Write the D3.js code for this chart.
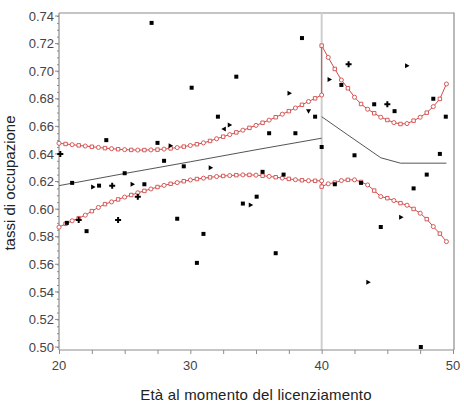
<!DOCTYPE html>
<html>
<head>
<meta charset="utf-8">
<script src="https://cdn.jsdelivr.net/npm/d3@7"></script>
<style>
  html, body { margin: 0; padding: 0; background: #fff; }
  svg { display: block; }
  text { font-family: "Liberation Sans", Arial, sans-serif; }
</style>
</head>
<body>
<svg id="chart" width="464" height="405"></svg>
<script>
// Observed employment rates by age at dismissal
const pointAge = [20.1, 21.0, 20.6, 21.5, 22.1, 23.6, 22.6, 23.05, 24.05, 25.0, 24.5, 25.6, 26.0, 26.5,
  27.5, 28.5, 28.0, 29.5, 31.55, 29.0, 31.0, 30.5, 34.0, 34.6, 35.05, 35.5, 37.1, 36.5, 36.0, 38.0,
  27.05, 30.1, 33.5, 38.5, 32.1, 32.55, 33.0, 37.55, 39.0, 39.5,
  42.05, 40.6, 41.5, 46.5, 44.0, 45.0, 45.55, 48.5, 49.45, 40.0, 42.5, 41.0, 43.0, 49.0, 48.0, 47.0,
  46.05, 44.5, 43.55, 47.55];
const pointRate = [0.640, 0.619, 0.590, 0.592, 0.584, 0.650, 0.616, 0.617, 0.617, 0.626, 0.592, 0.618, 0.609, 0.618,
  0.648, 0.646, 0.635, 0.631, 0.630, 0.593, 0.582, 0.561, 0.604, 0.603, 0.609, 0.627, 0.625, 0.568, 0.655, 0.655,
  0.735, 0.688, 0.696, 0.724, 0.667, 0.658, 0.661, 0.684, 0.671, 0.667,
  0.705, 0.694, 0.690, 0.704, 0.676, 0.676, 0.671, 0.680, 0.667, 0.645, 0.639, 0.618, 0.619, 0.640, 0.625, 0.615,
  0.594, 0.587, 0.547, 0.500];
// marker kind per observation: s = square, r = right triangle, l = left triangle, d = down triangle, p = plus
const pointSymbols = ["p","s","s","p","s","s","r","s","p","s","p","r","p","s",
  "s","r","s","s","r","s","s","s","s","r","s","s","s","s","s","s",
  "s","s","s","s","s","l","r","r","d","s",
  "p","r","s","r","s","p","s","s","s","s","s","s","s","s","s","s",
  "r","s","r","s"];

// Fitted line, before and after age 40
const fitLeftAge = [20, 25, 30, 35, 40];
const fitLeftRate = [0.6170, 0.6258, 0.6343, 0.6430, 0.6514];
const fitRightAge = [40, 42, 44.5, 46, 49.5];
const fitRightRate = [0.6670, 0.6537, 0.6372, 0.6333, 0.6333];

// Confidence band, evaluated every half year
const bandLeftAge = [20, 20.5, 21, 21.5, 22, 22.5, 23, 23.5, 24, 24.5, 25, 25.5, 26, 26.5, 27, 27.5, 28, 28.5,
  29, 29.5, 30, 30.5, 31, 31.5, 32, 32.5, 33, 33.5, 34, 34.5, 35, 35.5, 36, 36.5, 37, 37.5, 38, 38.5, 39, 39.5, 40];
const bandRightAge = [40, 40.5, 41, 41.5, 42, 42.5, 43, 43.5, 44, 44.5, 45, 45.5, 46, 46.5, 47, 47.5, 48, 48.5, 49, 49.5];

const upperLeft = [0.6477, 0.6472, 0.6467, 0.6462, 0.6457, 0.6452, 0.6447, 0.6442, 0.6438, 0.6434, 0.6431,
  0.6429, 0.6428, 0.6428, 0.6429, 0.6431, 0.6435, 0.6440, 0.6446, 0.6453, 0.6461, 0.6470, 0.6480, 0.6494,
  0.6510, 0.6525, 0.6540, 0.6556, 0.6572, 0.6589, 0.6607, 0.6626, 0.6645, 0.6666, 0.6688, 0.6710, 0.6733,
  0.6756, 0.6780, 0.6803, 0.6827];
const upperRight = [0.7185, 0.7100, 0.7016, 0.6936, 0.6876, 0.6811, 0.6762, 0.6724, 0.6695, 0.6666, 0.6646,
  0.6627, 0.6617, 0.6620, 0.6641, 0.6666, 0.6699, 0.6743, 0.6799, 0.6907];
const lowerLeft = [0.5869, 0.5893, 0.5915, 0.5934, 0.5956, 0.5985, 0.6012, 0.6036, 0.6052, 0.6070, 0.6087,
  0.6102, 0.6118, 0.6132, 0.6146, 0.6160, 0.6172, 0.6183, 0.6192, 0.6202, 0.6211, 0.6218, 0.6224, 0.6230,
  0.6236, 0.6240, 0.6243, 0.6246, 0.6248, 0.6248, 0.6246, 0.6242, 0.6237, 0.6231, 0.6225, 0.6219, 0.6213,
  0.6209, 0.6206, 0.6205, 0.6205];
const lowerRight = [0.6163, 0.6183, 0.6192, 0.6207, 0.6212, 0.6212, 0.6197, 0.6175, 0.6134, 0.6091, 0.6079,
  0.6062, 0.6043, 0.6028, 0.6001, 0.5970, 0.5927, 0.5873, 0.5822, 0.5764];

const xTicks = [20, 30, 40, 50];
const yTicks = [0.50, 0.52, 0.54, 0.56, 0.58, 0.60, 0.62, 0.64, 0.66, 0.68, 0.70, 0.72, 0.74];
const cutoffAge = 40;
const xTitle = "Età al momento del licenziamento";
const yTitle = "tassi di occupazione";

const svg = d3.select("#chart");
const frame = { left: 59, right: 454, top: 13, bottom: 350 };

const x = d3.scaleLinear().domain([20, 50]).range([59, 453]);
const y = d3.scaleLinear().domain([0.50, 0.74]).range([347, 16]);

const axisColor = "#8c8c8c";
const red = "#d24a4a";

// frame (top and right edges)
svg.append("path")
  .attr("d", `M${frame.left},${frame.top}H${frame.right}V${frame.bottom}`)
  .attr("fill", "none").attr("stroke", axisColor).attr("stroke-width", 1.2);

// cut-off at age 40
svg.append("line")
  .attr("x1", x(cutoffAge)).attr("x2", x(cutoffAge))
  .attr("y1", frame.top).attr("y2", frame.bottom)
  .attr("stroke", "#cfcfcf").attr("stroke-width", 2);

// x axis
const xAxisG = svg.append("g").attr("transform", `translate(0,${frame.bottom})`);
xAxisG.call(d3.axisBottom(x).tickValues(d3.range(20, 50.01, 2.5)).tickSize(4).tickFormat(""));
xAxisG.select(".domain").remove();
xAxisG.selectAll(".tick line").attr("stroke", axisColor);
xAxisG.append("line").attr("x1", frame.left).attr("x2", frame.right)
  .attr("stroke", axisColor).attr("stroke-width", 1.2);
xAxisG.selectAll(".lbl").data(xTicks).join("text")
  .attr("x", d => x(d)).attr("y", 20)
  .attr("text-anchor", "middle").attr("font-size", 13).attr("fill", "#444")
  .text(d => d);

// y axis
const yAxisG = svg.append("g").attr("transform", `translate(${frame.left},0)`);
yAxisG.call(d3.axisLeft(y).tickValues(d3.range(0.50, 0.7401, 0.005)).tickSize(2).tickFormat(""));
yAxisG.select(".domain").remove();
yAxisG.selectAll(".tick line").attr("stroke", axisColor);
yAxisG.selectAll(".major").data(yTicks).join("line").attr("class", "major")
  .attr("x1", -4).attr("x2", 0).attr("y1", d => y(d)).attr("y2", d => y(d))
  .attr("stroke", axisColor);
yAxisG.append("line").attr("y1", frame.top).attr("y2", frame.bottom)
  .attr("stroke", axisColor).attr("stroke-width", 1.2);
yAxisG.selectAll(".lbl").data(yTicks).join("text")
  .attr("x", -5).attr("y", d => y(d)).attr("dy", "0.36em")
  .attr("text-anchor", "end").attr("font-size", 13).attr("fill", "#444")
  .text(d => d3.format(".2f")(d));

// titles
svg.append("text").attr("x", 256).attr("y", 400)
  .attr("text-anchor", "middle").attr("font-size", 15).attr("fill", "#222")
  .attr("letter-spacing", 0.2).text(xTitle);
svg.append("text").attr("transform", "translate(15,183) rotate(-90)")
  .attr("text-anchor", "middle").attr("font-size", 15).attr("fill", "#222")
  .text(yTitle);

const line = d3.line().x(d => x(d[0])).y(d => y(d[1]));

// fitted line
[[fitLeftAge, fitLeftRate], [fitRightAge, fitRightRate]].forEach(([a, r]) => {
  svg.append("path").datum(a.map((v, i) => [v, r[i]]))
    .attr("d", line).attr("fill", "none").attr("stroke", "#555").attr("stroke-width", 1);
});

// confidence band: each bound drawn as one path across the cut-off
const upperBand = bandLeftAge.map((v, i) => [v, upperLeft[i]])
  .concat(bandRightAge.map((v, i) => [v, upperRight[i]]));
const lowerBand = bandLeftAge.map((v, i) => [v, lowerLeft[i]])
  .concat(bandRightAge.map((v, i) => [v, lowerRight[i]]));

[upperBand, lowerBand].forEach(band => {
  svg.append("path").datum(band).attr("d", line)
    .attr("fill", "none").attr("stroke", red).attr("stroke-width", 1);
  svg.append("g").selectAll("path").data(band).join("path")
    .attr("transform", d => `translate(${x(d[0])},${y(d[1])})`)
    .attr("d", (d, i) => d3.symbol().type(i % 2 === 0 ? d3.symbolCircle : d3.symbolSquare).size(i % 2 === 0 ? 13 : 12)())
    .attr("fill", "#fff").attr("stroke", red).attr("stroke-width", 0.9);
});

// observations
const triRight = "M-2,-2.5L2.5,0L-2,2.5Z";
const triLeft = "M2,-2.5L-2.5,0L2,2.5Z";
const triDown = "M-2.5,-2L2.5,-2L0,2.5Z";
const plusPath = "M-1,-3H1V-1H3V1H1V3H-1V1H-3V-1H-1Z";
const squarePath = "M-2,-2H2V2H-2Z";
const shapeOf = { s: squarePath, r: triRight, l: triLeft, d: triDown, p: plusPath };

svg.append("g").selectAll("path").data(pointAge.map((a, i) => [a, pointRate[i], pointSymbols[i]]))
  .join("path")
  .attr("transform", d => `translate(${x(d[0])},${y(d[1])})`)
  .attr("d", d => shapeOf[d[2]])
  .attr("fill", "#000");
</script>
</body>
</html>
